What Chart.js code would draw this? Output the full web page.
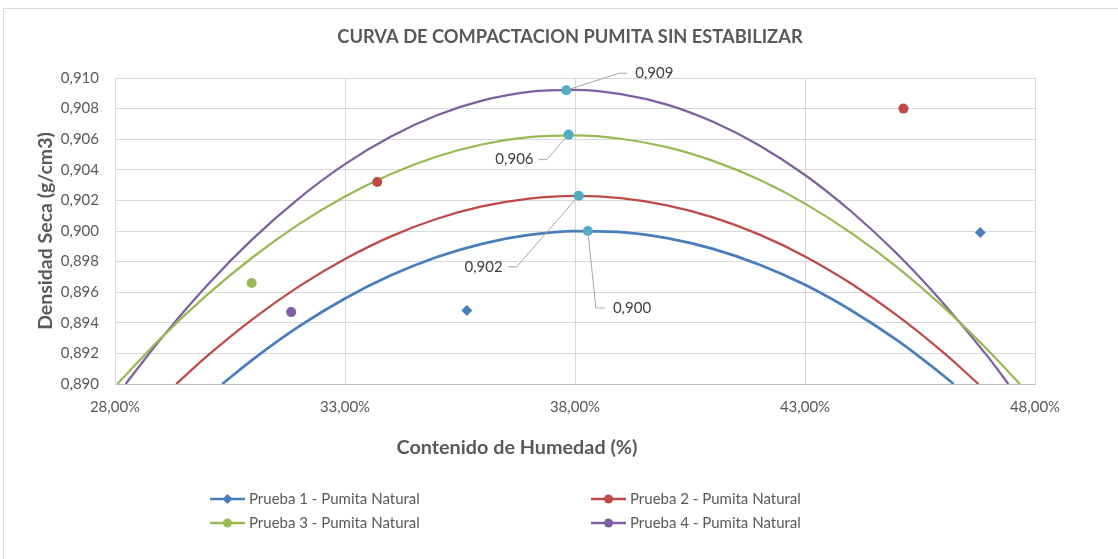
<!DOCTYPE html>
<html>
<head>
<meta charset="utf-8">
<script src="https://cdn.jsdelivr.net/npm/chart.js@4.4.1/dist/chart.umd.min.js"></script>
<style>
  html, body { margin: 0; padding: 0; background: #fff; }
</style>
</head>
<body>
<canvas id="chart" width="1118" height="559"></canvas>
<script>
// Measured points (humedad %, densidad seca g/cm3)
const prueba1X = [35.65, 46.81];
const prueba1Y = [0.8948, 0.8999];
const prueba2X = [33.70, 45.14];
const prueba2Y = [0.9032, 0.9080];
const prueba3X = [30.97];
const prueba3Y = [0.8966];
const prueba4X = [31.83];
const prueba4Y = [0.8947];

// Maximum density of each curve (cyan markers with labels)
const maxX = [37.81, 37.86, 38.08, 38.28];
const maxY = [0.9092, 0.9063, 0.9023, 0.9000];

// Trend curves
const trend1X = [30.33, 31, 32, 33, 34, 35, 36, 37, 38, 39, 40, 41, 42, 43, 44, 45, 46, 46.23];
const trend1Y = [0.8900, 0.89161, 0.89376, 0.89559, 0.89710, 0.89830, 0.89918, 0.89974, 0.89999,
                 0.89992, 0.89953, 0.89883, 0.89781, 0.89648, 0.89482, 0.89286, 0.89057, 0.8900];
const trend2X = [29.33, 30, 31, 32, 33, 34, 35, 36, 37, 38, 39, 40, 41, 42, 43, 44, 45, 46, 46.77];
const trend2Y = [0.8900, 0.89182, 0.89426, 0.89638, 0.89817, 0.89965, 0.90080, 0.90162, 0.90212, 0.90230,
                 0.90215, 0.90168, 0.90089, 0.89978, 0.89834, 0.89657, 0.89449, 0.89208, 0.8900];
const trend3X = [28.05, 29, 30, 31, 32, 33, 34, 35, 36, 37, 38, 39, 40, 41, 42, 43, 44, 45, 46, 47, 47.67];
const trend3Y = [0.8900, 0.89300, 0.89582, 0.89830, 0.90045, 0.90226, 0.90373, 0.90487, 0.90567, 0.90613, 0.90625,
                 0.90603, 0.90548, 0.90458, 0.90336, 0.90179, 0.89988, 0.89764, 0.89506, 0.89214, 0.8900];
const trend4X = [28.23, 29, 30, 31, 32, 33, 34, 35, 36, 37, 38, 39, 40, 41, 42, 43, 44, 45, 46, 47, 47.42];
const trend4Y = [0.8900, 0.89296, 0.89644, 0.89950, 0.90214, 0.90437, 0.90618, 0.90757, 0.90854, 0.90910, 0.90923,
                 0.90895, 0.90826, 0.90714, 0.90561, 0.90366, 0.90129, 0.89851, 0.89530, 0.89169, 0.8900];

const seriesNames = [
    "Prueba 1 - Pumita Natural",
    "Prueba 2 - Pumita Natural",
    "Prueba 3 - Pumita Natural",
    "Prueba 4 - Pumita Natural"
];
const colors = ["#4A7EBB", "#BE4B48", "#98B954", "#7D60A0"];
const maxColor = "#4BACC6";
const textColor = "#595959";
const FONT = "Lato, 'Open Sans', sans-serif";

function toXY(xs, ys) {
    return xs.map((x, i) => ({ x: x, y: ys[i] }));
}

function curve(xs, ys, color, width) {
    return {
        label: "trend",
        data: toXY(xs, ys),
        showLine: true,
        borderColor: color,
        borderWidth: width,
        pointRadius: 0,
        cubicInterpolationMode: "monotone",
        order: 3
    };
}

function points(xs, ys, color, style, radius) {
    return {
        label: "points",
        data: toXY(xs, ys),
        showLine: false,
        backgroundColor: color,
        borderColor: color,
        borderWidth: 0,
        pointStyle: style,
        pointRadius: radius,
        order: 2
    };
}

// Leader line offsets for the max labels (px from the marker)
const labelLeaders = [
    { path: [[53, -17], [61, -17]], tx: 69, ty: -17, align: "left" },
    { path: [[-22, 25], [-30, 25]], tx: -35, ty: 25, align: "right" },
    { path: [[-62, 71], [-71, 71]], tx: -76, ty: 71, align: "right" },
    { path: [[8, 77], [17, 77]], tx: 25, ty: 77, align: "left" }
];

const maxLabelsPlugin = {
    id: "maxLabels",
    afterDatasetsDraw(chart) {
        const ctx = chart.ctx;
        const meta = chart.getDatasetMeta(chart.data.datasets.length - 1);
        ctx.save();
        meta.data.forEach((pt, i) => {
            const l = labelLeaders[i];
            ctx.strokeStyle = "#A6A6A6";
            ctx.lineWidth = 1;
            ctx.beginPath();
            ctx.moveTo(pt.x, pt.y);
            l.path.forEach(p => ctx.lineTo(pt.x + p[0], pt.y + p[1]));
            ctx.stroke();
            ctx.fillStyle = "#404040";
            ctx.font = "15px " + FONT;
            ctx.textAlign = l.align;
            ctx.textBaseline = "middle";
            ctx.fillText(maxY[i].toFixed(3).replace(".", ","), pt.x + l.tx, pt.y + l.ty);
        });
        ctx.restore();
    }
};

// Title, x axis title, frame and the 2x2 legend
const decorPlugin = {
    id: "decor",
    afterDraw(chart) {
        const ctx = chart.ctx;
        ctx.save();
        ctx.strokeStyle = "#D9D9D9";
        ctx.lineWidth = 1;
        ctx.strokeRect(3.5, 8.5, 1200, 600);

        ctx.fillStyle = textColor;
        ctx.font = "bold 18.3px " + FONT;
        ctx.textAlign = "center";
        ctx.textBaseline = "middle";
        ctx.fillText("CURVA DE COMPACTACION PUMITA SIN ESTABILIZAR", 570, 37);

        ctx.font = "bold 19.8px " + FONT;
        ctx.fillText("Contenido de Humedad (%)", 517, 448);

        const cols = [210, 591];
        const rows = [499, 523];
        seriesNames.forEach((name, i) => {
            const x = cols[i % 2];
            const y = rows[Math.floor(i / 2)];
            ctx.strokeStyle = colors[i];
            ctx.lineWidth = 2.5;
            ctx.beginPath();
            ctx.moveTo(x, y);
            ctx.lineTo(x + 35, y);
            ctx.stroke();
            ctx.fillStyle = colors[i];
            ctx.beginPath();
            if (i === 0) {
                ctx.moveTo(x + 17.5, y - 5);
                ctx.lineTo(x + 22.5, y);
                ctx.lineTo(x + 17.5, y + 5);
                ctx.lineTo(x + 12.5, y);
                ctx.closePath();
            } else {
                ctx.arc(x + 17.5, y, 4.5, 0, Math.PI * 2);
            }
            ctx.fill();
            ctx.fillStyle = textColor;
            ctx.font = "15px " + FONT;
            ctx.textAlign = "left";
            ctx.textBaseline = "middle";
            ctx.fillText(name, x + 39, y);
        });
        ctx.restore();
    }
};

new Chart(document.getElementById("chart"), {
    type: "scatter",
    data: {
        datasets: [
            curve(trend1X, trend1Y, colors[0], 2.75),
            curve(trend2X, trend2Y, colors[1], 2.25),
            curve(trend3X, trend3Y, colors[2], 2.25),
            curve(trend4X, trend4Y, colors[3], 2.25),
            points(prueba1X, prueba1Y, colors[0], "rectRot", 5.5),
            points(prueba2X, prueba2Y, colors[1], "circle", 5),
            points(prueba3X, prueba3Y, colors[2], "circle", 5),
            points(prueba4X, prueba4Y, colors[3], "circle", 5),
            Object.assign(points(maxX, maxY, maxColor, "circle", 5), { label: "max", order: 1 })
        ]
    },
    options: {
        responsive: false,
        animation: false,
        layout: { padding: { left: 0, top: 78, right: 83, bottom: 99 } },
        plugins: {
            legend: { display: false },
            tooltip: { enabled: false }
        },
        scales: {
            x: {
                type: "linear",
                min: 28,
                max: 48,
                ticks: {
                    stepSize: 5,
                    padding: 14,
                    color: textColor,
                    font: { family: FONT, size: 15 },
                    callback: v => v.toFixed(2).replace(".", ",") + "%"
                },
                grid: { color: "#D9D9D9", drawTicks: false },
                border: { color: "#BFBFBF" },
                afterFit: s => { s.height = 76; }
            },
            y: {
                type: "linear",
                min: 0.89,
                max: 0.91,
                ticks: {
                    stepSize: 0.002,
                    padding: 16,
                    color: textColor,
                    font: { family: FONT, size: 15 },
                    callback: v => v.toFixed(3).replace(".", ",")
                },
                grid: { color: "#D9D9D9", drawTicks: false },
                border: { color: "#D9D9D9" },
                title: {
                    display: true,
                    text: "Densidad Seca (g/cm3)",
                    color: textColor,
                    font: { family: FONT, size: 19.5, weight: "bold" },
                    padding: { top: 34, bottom: 0 }
                },
                afterFit: s => { s.width = 115; }
            }
        }
    },
    plugins: [maxLabelsPlugin, decorPlugin]
});
</script>
</body>
</html>
